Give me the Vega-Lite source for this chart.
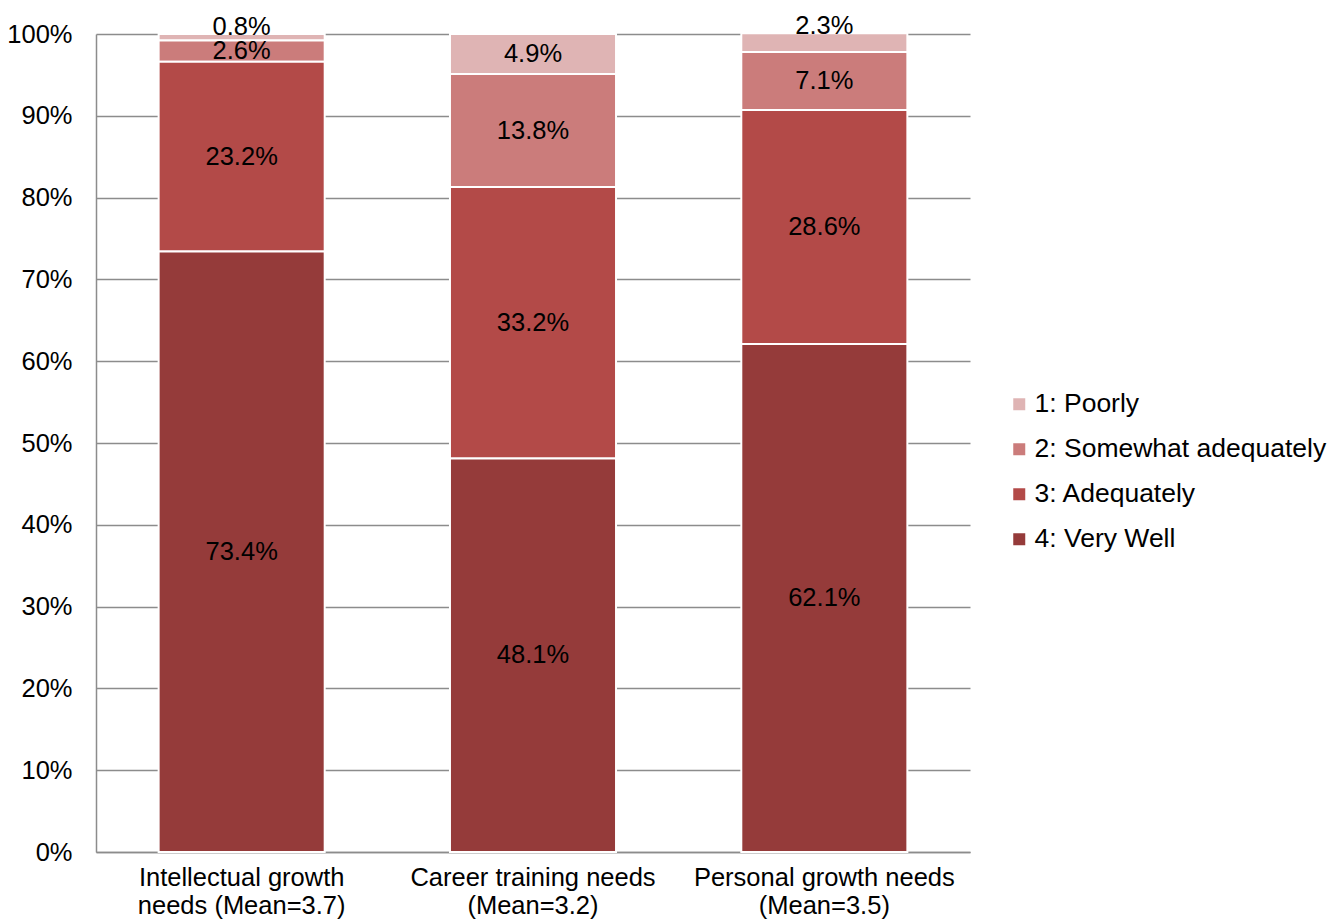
{
  "$schema": "https://vega.github.io/schema/vega-lite/v6.json",
  "width": 874,
  "height": 818,
  "autosize": "none",
  "padding": {"left": 96, "top": 34, "right": 357, "bottom": 67},
  "background": "white",
  "config": {
    "font": "Liberation Sans",
    "view": {"stroke": null}
  },
  "data": {
    "values": [
      {"cat": "Intellectual growth needs (Mean=3.7)", "resp": "1: Poorly", "pct": 0.8},
      {"cat": "Intellectual growth needs (Mean=3.7)", "resp": "2: Somewhat adequately", "pct": 2.6},
      {"cat": "Intellectual growth needs (Mean=3.7)", "resp": "3: Adequately", "pct": 23.2},
      {"cat": "Intellectual growth needs (Mean=3.7)", "resp": "4: Very Well", "pct": 73.4},
      {"cat": "Career training needs (Mean=3.2)", "resp": "1: Poorly", "pct": 4.9},
      {"cat": "Career training needs (Mean=3.2)", "resp": "2: Somewhat adequately", "pct": 13.8},
      {"cat": "Career training needs (Mean=3.2)", "resp": "3: Adequately", "pct": 33.2},
      {"cat": "Career training needs (Mean=3.2)", "resp": "4: Very Well", "pct": 48.1},
      {"cat": "Personal growth needs (Mean=3.5)", "resp": "1: Poorly", "pct": 2.3},
      {"cat": "Personal growth needs (Mean=3.5)", "resp": "2: Somewhat adequately", "pct": 7.1},
      {"cat": "Personal growth needs (Mean=3.5)", "resp": "3: Adequately", "pct": 28.6},
      {"cat": "Personal growth needs (Mean=3.5)", "resp": "4: Very Well", "pct": 62.1}
    ]
  },
  "transform": [
    {"stack": "pct", "groupby": ["cat"], "sort": [{"field": "resp", "order": "descending"}], "as": ["p0", "p1"]},
    {"calculate": "(datum.p0 + datum.p1) / 2", "as": "pmid"},
    {"calculate": "format(datum.pct, '.1f') + '%'", "as": "lbl"}
  ],
  "encoding": {
    "x": {
      "field": "cat", "type": "nominal",
      "sort": ["Intellectual growth needs (Mean=3.7)", "Career training needs (Mean=3.2)", "Personal growth needs (Mean=3.5)"],
      "scale": {"paddingInner": 0.43, "paddingOuter": 0.215},
      "axis": {
        "title": null, "labelAngle": 0, "ticks": false, "grid": false,
        "domainColor": "#8c8c8c", "domainWidth": 1.5,
        "labelFont": "Liberation Sans", "labelFontSize": 25.5, "labelColor": "#000000",
        "labelPadding": 13, "labelLineHeight": 28, "labelBaseline": "top", "labelLimit": 400,
        "labelExpr": "datum.label == 'Intellectual growth needs (Mean=3.7)' ? ['Intellectual growth', 'needs (Mean=3.7)'] : datum.label == 'Career training needs (Mean=3.2)' ? ['Career training needs', '(Mean=3.2)'] : ['Personal growth needs', '(Mean=3.5)']"
      }
    }
  },
  "layer": [
    {
      "mark": {"type": "bar", "stroke": "white", "strokeWidth": 2},
      "encoding": {
        "y": {
          "field": "p0", "type": "quantitative",
          "scale": {"domain": [0, 100], "nice": false},
          "axis": {
            "title": null, "values": [0, 10, 20, 30, 40, 50, 60, 70, 80, 90, 100],
            "labelExpr": "datum.value + '%'", "ticks": false,
            "grid": true, "gridColor": "#8c8c8c", "gridWidth": 1.5,
            "domainColor": "#8c8c8c", "domainWidth": 1.5,
            "labelFont": "Liberation Sans", "labelFontSize": 25.5, "labelColor": "#000000",
            "labelPadding": 24
          }
        },
        "y2": {"field": "p1"},
        "color": {
          "field": "resp", "type": "nominal",
          "scale": {
            "domain": ["1: Poorly", "2: Somewhat adequately", "3: Adequately", "4: Very Well"],
            "range": ["#dfb4b4", "#cb7c7b", "#b34a48", "#953b3a"]
          },
          "legend": {
            "title": null, "orient": "none", "legendX": 910, "legendY": 357,
            "symbolType": "square", "symbolSize": 144, "symbolStrokeWidth": 0,
            "labelFont": "Liberation Sans", "labelFontSize": 26.5, "labelColor": "#000000",
            "labelOffset": 2, "rowPadding": 18, "labelLimit": 400
          }
        }
      }
    },
    {
      "transform": [{"filter": "datum.pct > 2.5"}],
      "mark": {"type": "text", "fontSize": 25.5, "font": "Liberation Sans", "color": "#000000", "baseline": "middle"},
      "encoding": {
        "y": {"field": "pmid", "type": "quantitative"},
        "text": {"field": "lbl"}
      }
    },
    {
      "transform": [{"filter": "datum.pct <= 2.5"}],
      "mark": {"type": "text", "fontSize": 25.5, "font": "Liberation Sans", "color": "#000000", "baseline": "alphabetic", "dy": 1},
      "encoding": {
        "y": {"field": "p1", "type": "quantitative"},
        "text": {"field": "lbl"}
      }
    }
  ]
}
